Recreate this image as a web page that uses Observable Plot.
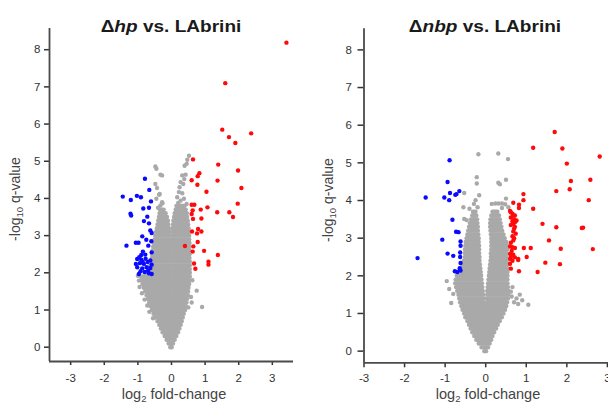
<!DOCTYPE html>
<html><head><meta charset="utf-8">
<script src="https://cdn.jsdelivr.net/npm/d3@7"></script>
<script src="https://cdn.jsdelivr.net/npm/@observablehq/plot@0.6"></script>
<style>
html,body{margin:0;padding:0;background:#fff;overflow:hidden}
#wrap{position:relative;width:608px;height:405px;overflow:hidden;font-family:"Liberation Sans",Arial,sans-serif}
.panel{position:absolute;top:0}
.panel svg{max-width:none}
.title{position:absolute;top:18px;font-weight:bold;font-size:17px;line-height:17px;color:#1a1a1a;white-space:nowrap;transform:translateX(-50%) scaleX(1.12)}
.xlab{position:absolute;top:386.5px;font-size:14.5px;line-height:14.5px;color:#444;white-space:nowrap;transform:translateX(-50%)}
.ylab{position:absolute;font-size:14px;line-height:14px;color:#444;white-space:nowrap;transform:translate(-50%,-50%) rotate(-90deg)}
.sub{font-size:9.5px;position:relative;top:3px}
svg .tick line, svg [aria-label$="tick"] path{stroke-width:1.5}
</style>
</head><body>
<div id="wrap"></div>
<script>
// ---- shared ticks ----
const yTicks = [0,1,2,3,4,5,6,7,8];
const xTicks = [-3,-2,-1,0,1,2,3];
const titles = [["Δ", "hp", " vs. LAbrini"], ["Δ", "nbp", " vs. LAbrini"]];
const xLabel = ["log", "2", " fold-change"];
const yLabel = ["-log", "10", " q-value"];

// ---- left panel: dense gray core rows [y, x1, x2] ----
const coreL = [
[0.0,-0.02,0.02],[0.1,-0.07,0.06],[0.2,-0.13,0.11],[0.3,-0.19,0.16],[0.4,-0.25,0.21],
[0.5,-0.30,0.25],[0.6,-0.35,0.29],[0.7,-0.40,0.32],[0.8,-0.46,0.35],[0.9,-0.52,0.38],
[1.0,-0.57,0.42],
[1.1,-0.61,-0.02],[1.1,0.03,0.44],[1.2,-0.65,-0.03],[1.2,0.03,0.46],
[1.3,-0.69,-0.03],[1.3,0.03,0.48],[1.4,-0.73,-0.03],[1.4,0.04,0.50],
[1.5,-0.77,-0.03],[1.5,0.04,0.51],[1.6,-0.81,-0.03],[1.6,0.04,0.52],
[1.7,-0.85,-0.03],[1.7,0.04,0.54],[1.8,-0.88,-0.03],[1.8,0.04,0.55],
[1.9,-0.90,-0.03],[1.9,0.04,0.56],[2.0,-0.75,-0.03],[2.0,0.04,0.56],
[2.1,-0.68,-0.03],[2.1,0.04,0.56],[2.2,-0.62,-0.03],[2.2,0.04,0.56],
[2.3,-0.58,-0.03],[2.3,0.04,0.56],[2.4,-0.57,-0.03],[2.4,0.04,0.55],
[2.5,-0.56,-0.03],[2.5,0.04,0.55],[2.6,-0.55,-0.03],[2.6,0.04,0.55],
[2.7,-0.53,-0.03],[2.7,0.04,0.55],[2.8,-0.51,-0.04],[2.8,0.04,0.55],
[2.9,-0.49,-0.04],[2.9,0.04,0.54],[3.0,-0.47,-0.04],[3.0,0.04,0.54],
[3.1,-0.45,-0.05],[3.1,0.05,0.53],[3.2,-0.42,-0.06],[3.2,0.05,0.52],
[3.3,-0.40,-0.08],[3.3,0.06,0.51],[3.4,-0.38,-0.09],[3.4,0.07,0.50],
[3.5,-0.36,-0.12],[3.5,0.09,0.48],[3.6,-0.34,-0.16],[3.6,0.11,0.47],
[3.7,-0.33,-0.22],[3.7,0.14,0.44],[3.8,0.16,0.40]
];
const grayL = [
[0.52,5.15],[0.47,5.04],[0.45,4.93],[0.39,4.88],[0.42,4.64],[0.32,4.62],[0.38,4.52],[0.27,4.44],
[0.35,4.39],[0.24,4.30],[0.22,4.17],[0.32,4.14],[0.17,4.03],[0.37,3.99],[0.27,3.94],[0.20,3.88],[0.45,3.85],
[-0.48,4.86],[-0.45,4.80],[-0.33,4.64],[-0.28,4.62],[-0.48,4.39],[-0.43,4.28],[-0.35,4.12],[-0.37,4.10],
[-0.45,3.99],[-0.28,3.90],[-0.27,3.87],[-0.33,3.81],[-0.40,3.75],
[0.75,1.52],[0.91,1.08],[0.50,1.07],[0.58,1.35],[0.62,1.80],[0.60,1.20],
[-0.97,1.79],[-1.00,1.92],[-0.95,1.62],[-0.88,1.45],[-0.80,1.28],[-0.72,1.12],[-0.66,0.95],[-0.55,0.78]
];
const blueL = [
[-0.79,4.53],[-0.66,4.23],[-1.45,4.05],[-1.03,4.07],[-0.91,4.03],[-1.21,3.96],[-0.61,3.92],[-0.84,3.73],
[-0.67,3.75],[-1.22,3.59],[-1.20,3.54],[-0.72,3.51],[-0.82,3.39],[-0.67,3.33],[-0.63,3.14],[-0.59,3.07],
[-0.87,2.98],[-1.34,2.73],[-1.06,2.81],[-0.98,2.81],[-0.75,2.89],[-0.69,2.73],[-0.60,2.85],[-0.59,2.55],
[-0.85,2.57],[-0.90,2.48],[-0.78,2.49],[-1.02,2.37],[-0.90,2.35],[-0.77,2.38],[-0.63,2.33],[-1.06,2.24],
[-0.94,2.26],[-0.82,2.24],[-0.71,2.29],[-0.59,2.22],[-1.02,2.15],[-0.87,2.12],[-0.74,2.15],[-0.63,2.13],
[-0.92,2.04],[-0.80,2.02],[-0.67,1.99],[-0.59,1.97],[-0.97,1.97],[-0.86,2.30],[-0.96,2.42],[-0.70,2.05]
];
const redL = [
[3.42,8.19],[1.60,7.10],[1.51,5.85],[2.37,5.75],[1.71,5.65],[1.90,5.49],[0.64,5.05],[1.39,4.91],
[0.83,4.68],[0.78,4.60],[1.98,4.75],[0.60,4.49],[1.37,4.48],[0.77,4.37],[2.08,4.28],[1.04,4.18],
[1.97,3.86],[0.60,3.83],[0.68,3.83],[1.07,3.76],[0.63,3.68],[0.87,3.70],[1.36,3.63],[1.72,3.63],
[1.83,3.50],[0.60,3.58],[0.89,3.46],[0.64,3.45],[0.79,3.18],[0.61,3.11],[0.89,3.11],[0.76,3.06],
[0.78,2.83],[0.40,2.72],[0.65,2.71],[0.97,2.59],[0.63,2.57],[1.38,2.48],[0.67,2.25],[0.71,2.11],
[1.10,2.30],[1.10,2.22]
];

// ---- right panel ----
const coreR = [
[0.0,-0.02,0.02],[0.1,-0.09,0.07],[0.2,-0.16,0.11],[0.3,-0.22,0.15],[0.4,-0.27,0.18],
[0.5,-0.32,0.22],[0.6,-0.36,0.27],[0.7,-0.40,0.31],[0.8,-0.44,0.36],[0.9,-0.49,0.41],
[1.0,-0.52,0.45],
[1.1,-0.56,-0.03],[1.1,0.03,0.49],[1.2,-0.59,-0.03],[1.2,0.03,0.52],
[1.3,-0.62,-0.04],[1.3,0.04,0.54],[1.4,-0.64,-0.04],[1.4,0.04,0.56],
[1.5,-0.66,-0.05],[1.5,0.05,0.57],[1.6,-0.69,-0.06],[1.6,0.05,0.57],
[1.7,-0.72,-0.07],[1.7,0.06,0.56],[1.8,-0.74,-0.08],[1.8,0.07,0.55],
[1.9,-0.73,-0.09],[1.9,0.08,0.55],[2.0,-0.70,-0.10],[2.0,0.09,0.55],
[2.1,-0.66,-0.11],[2.1,0.10,0.55],[2.2,-0.60,-0.12],[2.2,0.11,0.55],
[2.3,-0.56,-0.13],[2.3,0.12,0.54],[2.4,-0.53,-0.14],[2.4,0.13,0.53],
[2.5,-0.50,-0.14],[2.5,0.14,0.52],[2.6,-0.50,-0.15],[2.6,0.14,0.53],
[2.7,-0.50,-0.15],[2.7,0.15,0.54],[2.8,-0.49,-0.15],[2.8,0.15,0.54],
[2.9,-0.48,-0.16],[2.9,0.15,0.52],[3.0,-0.46,-0.16],[3.0,0.15,0.48],
[3.1,-0.44,-0.17],[3.1,0.14,0.45],[3.2,-0.42,-0.18],[3.2,0.13,0.42],
[3.3,-0.40,-0.18],[3.3,0.12,0.40],[3.4,-0.38,-0.19],[3.4,0.12,0.38],
[3.5,-0.35,-0.20],[3.5,0.13,0.36],[3.6,-0.32,-0.22],[3.6,0.15,0.34],
[3.7,-0.30,-0.24],[3.7,0.18,0.30]
];
const grayR = [
[-0.18,5.23],[0.31,5.25],[0.55,5.10],[-0.22,4.62],[-0.22,4.45],[0.31,4.47],[0.35,4.43],[0.50,4.55],
[-0.53,4.20],[-0.16,4.14],[0.50,4.05],[0.15,3.91],[0.24,3.92],[0.32,3.92],[0.40,3.92],[0.48,3.90],
[0.56,3.82],[0.40,3.80],[-0.25,4.01],[-0.29,3.91],[-0.20,3.82],[-0.55,3.82],[-0.40,3.78],[-0.53,3.51],
[-0.47,3.48],[-0.96,1.86],[-0.85,1.28],[-0.80,1.52],[-0.90,1.65],
[1.05,1.23],[0.64,1.45],[0.76,1.40],[0.84,1.50],[0.70,1.30],[0.62,1.58],[0.80,1.25],[0.90,1.35],[0.66,1.70]
];
const blueR = [
[-0.89,5.07],[-0.94,4.49],[-0.88,4.20],[-0.75,4.15],[-0.65,4.25],[-0.72,4.17],[-1.02,4.08],[-0.90,4.01],
[-1.48,4.08],[-0.82,3.49],[-0.73,3.17],[-0.67,3.16],[-1.07,2.96],[-0.62,2.91],[-0.62,2.80],[-0.94,2.59],
[-0.80,2.53],[-0.63,2.62],[-0.63,2.50],[-1.68,2.47],[-0.62,2.34],[-0.64,2.20],[-0.76,2.12],[-0.70,2.10],
[-0.62,2.14]
];
const redR = [
[1.70,5.82],[1.17,5.40],[1.89,5.38],[2.81,5.17],[2.00,4.98],[2.58,4.55],[2.10,4.52],[2.07,4.30],
[1.74,4.25],[0.93,4.17],[2.54,4.01],[0.93,4.01],[0.68,3.94],[0.82,3.89],[0.82,3.80],[1.17,3.78],
[0.60,3.72],[0.62,3.69],[0.66,3.65],[0.68,3.60],[0.72,3.60],[0.62,3.55],[0.70,3.50],[0.76,3.47],
[0.66,3.45],[0.72,3.42],[0.68,3.38],[0.62,3.35],[0.72,3.30],[0.70,3.25],[0.68,3.18],[0.74,3.12],
[0.66,3.05],[0.70,3.00],[0.68,2.94],[0.62,2.88],[0.60,2.78],[0.66,2.76],[0.72,2.74],[0.64,2.66],
[0.60,2.58],[0.68,2.56],[0.62,2.50],[0.72,2.49],[0.80,2.45],[0.60,2.45],[0.66,2.40],[0.60,2.32],
[0.62,2.19],[1.40,3.38],[1.74,3.29],[2.37,3.27],[2.40,3.28],[1.56,2.94],[0.94,2.74],[1.11,2.74],
[1.85,2.72],[2.64,2.71],[1.01,2.50],[0.80,2.42],[1.47,2.35],[1.83,2.31],[1.28,2.10],[0.82,2.12]
];

const GRAY = "#a9a9a9", BLUE = "#0a0aff", RED = "#ff0a0a", AXIS = "#4a4a4a";
const R = 2.2;

function panel(o) {
  return Plot.plot({
    width: o.width, height: 405,
    marginLeft: o.ml, marginRight: o.mr, marginTop: o.mt, marginBottom: o.mb,
    style: {fontFamily: '"Liberation Sans", Arial, sans-serif', fontSize: "11.5px", color: "#333", background: "transparent", overflow: "visible", maxWidth: "none"},
    x: {domain: o.xd, ticks: xTicks, tickFormat: d => String(d), tickSize: o.xts, tickPadding: o.xtp, label: null},
    y: {domain: o.yd, ticks: yTicks, tickFormat: d => String(d), tickSize: o.yts, tickPadding: o.ytp, label: null},
    marks: [
      Plot.ruleY(o.core, {y: d => d[0], x1: d => d[1], x2: d => d[2], stroke: GRAY, strokeWidth: 2*R, strokeLinecap: "round"}),
      Plot.dot(o.gray, {x: d => d[0], y: d => d[1], r: R, fill: GRAY}),
      Plot.dot(o.blue, {x: d => d[0], y: d => d[1], r: R, fill: BLUE}),
      Plot.dot(o.red, {x: d => d[0], y: d => d[1], r: R, fill: RED}),
      Plot.ruleX([o.xd[0]], {stroke: AXIS, strokeWidth: 1.8}),
      Plot.ruleY([o.yd[0]], {stroke: AXIS, strokeWidth: 1.8})
    ]
  });
}

const wrap = document.getElementById("wrap");
const specs = [
  {left: 0, width: 304, ml: 49, mr: 11, mt: 28, mb: 44, xd: [-3.63, 3.63], yd: [-0.385, 8.57],
   xts: 4, xtp: 8, yts: 5, ytp: 4, core: coreL, gray: grayL, blue: blueL, red: redL,
   tx: 171, lx: 174, ly: [16, 199]},
  {left: 304, width: 320, ml: 59.5, mr: 11, mt: 28.3, mb: 42.7, xd: [-3, 3.15], yd: [-0.31, 8.56],
   xts: 5, xtp: 6.5, yts: 6, ytp: 6, core: coreR, gray: grayR, blue: blueR, red: redR,
   tx: 485, lx: 488, ly: [329, 200]}
];
specs.forEach((s, i) => {
  const div = document.createElement("div");
  div.className = "panel";
  div.style.left = s.left + "px";
  div.style.width = s.width + "px";
  div.appendChild(panel(s));
  wrap.appendChild(div);

  const t = document.createElement("div");
  t.className = "title";
  t.style.left = s.tx + "px";
  t.innerHTML = titles[i][0] + "<i>" + titles[i][1] + "</i>" + titles[i][2];
  wrap.appendChild(t);

  const xl = document.createElement("div");
  xl.className = "xlab";
  xl.style.left = s.lx + "px";
  xl.innerHTML = xLabel[0] + '<span class="sub">' + xLabel[1] + "</span>" + xLabel[2];
  wrap.appendChild(xl);

  const yl = document.createElement("div");
  yl.className = "ylab";
  yl.style.left = s.ly[0] + "px";
  yl.style.top = s.ly[1] + "px";
  yl.innerHTML = yLabel[0] + '<span class="sub">' + yLabel[1] + "</span>" + yLabel[2];
  wrap.appendChild(yl);
});
</script>
</body></html>
